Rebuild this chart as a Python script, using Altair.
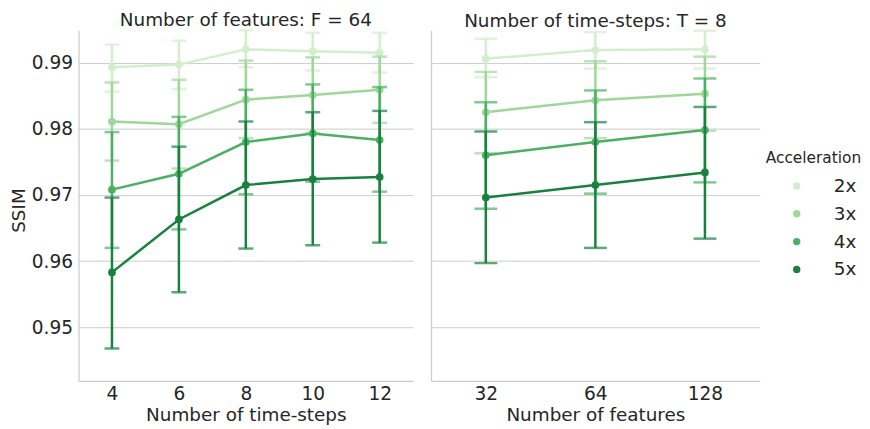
import altair as alt
import pandas as pd

# ---- data ----
accel = ["2x", "3x", "4x", "5x"]
colors = ["#d3eecd", "#9dd898", "#4bb062", "#17813d"]

T_labels = ["4", "6", "8", "10", "12"]
F_labels = ["32", "64", "128"]

# Left panel: SSIM vs number of time-steps (F = 64)
t_mean = {
    "2x": [0.9893, 0.9897, 0.9920, 0.9917, 0.9915],
    "3x": [0.9811, 0.9807, 0.9844, 0.9851, 0.9859],
    "4x": [0.9708, 0.9732, 0.9780, 0.9793, 0.9783],
    "5x": [0.9583, 0.9663, 0.9715, 0.9724, 0.9727],
}
t_lo = {
    "2x": [0.9856, 0.9860, 0.9893, 0.9888, 0.9885],
    "3x": [0.9752, 0.9740, 0.9786, 0.9794, 0.9809],
    "4x": [0.9620, 0.9648, 0.9701, 0.9720, 0.9705],
    "5x": [0.9468, 0.9553, 0.9619, 0.9624, 0.9628],
}
t_hi = {
    "2x": [0.9927, 0.9933, 0.9949, 0.9945, 0.9945],
    "3x": [0.9870, 0.9874, 0.9903, 0.9908, 0.9909],
    "4x": [0.9795, 0.9818, 0.9859, 0.9867, 0.9863],
    "5x": [0.9696, 0.9773, 0.9811, 0.9825, 0.9827],
}

# Right panel: SSIM vs number of features (T = 8)
f_mean = {
    "2x": [0.9906, 0.9919, 0.9920],
    "3x": [0.9825, 0.9843, 0.9853],
    "4x": [0.9760, 0.9780, 0.9798],
    "5x": [0.9696, 0.9715, 0.9734],
}
f_lo = {
    "2x": [0.9878, 0.9891, 0.9891],
    "3x": [0.9763, 0.9786, 0.9797],
    "4x": [0.9679, 0.9702, 0.9719],
    "5x": [0.9597, 0.9620, 0.9634],
}
f_hi = {
    "2x": [0.9936, 0.9946, 0.9948],
    "3x": [0.9886, 0.9902, 0.9909],
    "4x": [0.9840, 0.9858, 0.9876],
    "5x": [0.9796, 0.9810, 0.9833],
}

y_ticks = [0.95, 0.96, 0.97, 0.98, 0.99]
y_domain = [0.94191, 0.99488]

FONT = "DejaVu Sans"
TXT = "#262626"
GRID = "#cccccc"


def make_df(labels, mean, lo, hi):
    rows = []
    for a in accel:
        for i, lab in enumerate(labels):
            rows.append({"x": lab, "idx": i, "acc": a,
                         "mean": mean[a][i], "lo": lo[a][i], "hi": hi[a][i]})
    return pd.DataFrame(rows)


color_scale = alt.Scale(domain=accel, range=colors)
legend = alt.Legend(title="Acceleration", orient="none",
                    legendX=692, legendY=122,
                    symbolType="circle", symbolSize=55, symbolOpacity=1,
                    symbolStrokeWidth=0,
                    symbolOffset=22, labelOffset=28,
                    titleFontSize=15.5, titleFontWeight="normal",
                    titleColor=TXT, titleFont=FONT,
                    labelFontSize=18.5, labelColor=TXT, labelFont=FONT,
                    rowPadding=9, titlePadding=10)
color_enc = alt.Color("acc:N", scale=color_scale, legend=legend)


def panel(df, labels, xtitle, title, width, cap, left):
    xenc = alt.X("x:O", sort=labels,
                 scale=alt.Scale(type="point", padding=0.5),
                 axis=alt.Axis(title=xtitle, labelAngle=0, grid=False,
                               ticks=False, labelPadding=4, titlePadding=2))
    if left:
        yaxis = alt.Axis(values=y_ticks, format=".2f", title="SSIM",
                         ticks=False, labelPadding=6, titleX=-50, titleY=181)
    else:
        yaxis = alt.Axis(values=y_ticks, labels=False, ticks=False, title=None)
    yscale = alt.Scale(domain=y_domain, nice=False, zero=False)

    layers = []
    for a in accel:
        base = alt.Chart(df).transform_filter(alt.datum.acc == a)
        rule = base.mark_rule(strokeWidth=2.5).encode(
            x=xenc,
            y=alt.Y("lo:Q", scale=yscale, axis=yaxis),
            y2="hi:Q",
            color=color_enc,
        )
        cap_lo = base.mark_tick(orient="horizontal", size=cap, thickness=2.5).encode(
            x=xenc,
            y=alt.Y("lo:Q", scale=yscale, axis=yaxis),
            color=color_enc,
        )
        cap_hi = base.mark_tick(orient="horizontal", size=cap, thickness=2.5).encode(
            x=xenc,
            y=alt.Y("hi:Q", scale=yscale, axis=yaxis),
            color=color_enc,
        )
        line = base.mark_line(strokeWidth=2.5).encode(
            x=xenc,
            y=alt.Y("mean:Q", scale=yscale, axis=yaxis),
            order=alt.Order("idx:Q"),
            color=color_enc,
        )
        pts = base.mark_circle(size=60, opacity=1).encode(
            x=xenc,
            y=alt.Y("mean:Q", scale=yscale, axis=yaxis),
            color=color_enc,
        )
        layers += [rule, cap_lo, cap_hi, line, pts]

    return alt.layer(*layers).properties(
        width=width, height=353,
        title=alt.TitleParams(title, fontSize=18.5, fontWeight="normal",
                              font=FONT, color=TXT, offset=-1, anchor="middle"),
    )


left = panel(make_df(T_labels, t_mean, t_lo, t_hi), T_labels,
             "Number of time-steps", "Number of features: F = 64", 337, 15, True)
right = panel(make_df(F_labels, f_mean, f_lo, f_hi), F_labels,
              "Number of features", "Number of time-steps: T = 8", 331, 23, False)

chart = (
    alt.hconcat(left, right, spacing=18)
    .resolve_scale(color="shared")
    .resolve_legend(color="shared")
    .properties(padding={"left": 2, "top": 2, "right": 0, "bottom": 0})
    .configure_view(strokeWidth=0)
    .configure_axis(
        domainColor=GRID, domainWidth=1.25,
        gridColor=GRID, gridWidth=1,
        labelFont=FONT, labelFontSize=18.7, labelColor=TXT,
        titleFont=FONT, titleFontSize=18.5, titleFontWeight="normal", titleColor=TXT,
    )
    .configure_axisX(grid=False)
)

chart.save("out.html", embed_options={"renderer": "svg", "actions": False})
